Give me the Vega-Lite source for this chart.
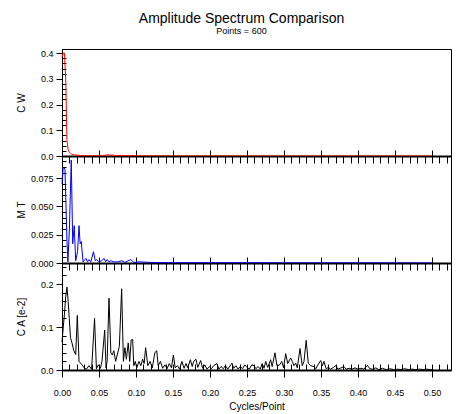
{
  "$schema": "https://vega.github.io/schema/vega-lite/v6.json",
  "padding": {"left": 15, "top": 11, "right": 6, "bottom": 4},
  "title": {"text": "Amplitude Spectrum Comparison", "subtitle": "Points = 600", "fontSize": 14, "subtitleFontSize": 9, "font": "Liberation Sans", "subtitleFont": "Liberation Sans", "fontWeight": "normal", "color": "black", "subtitleColor": "black", "anchor": "middle", "offset": 13, "subtitlePadding": 1, "dx": 8},
  "datasets": {
    "cw": [
      {"f":0,"v":0.385},{"f":0.0017,"v":0.4},{"f":0.0033,"v":0.4},{"f":0.005,"v":0.3},{"f":0.0067,"v":0.06},{"f":0.0083,"v":0.025},{"f":0.01,"v":0.014},{"f":0.0117,"v":0.01},{"f":0.0133,"v":0.007},{"f":0.015,"v":0.005},{"f":0.0183,"v":0.004},{"f":0.0217,"v":0.003},{"f":0.025,"v":0.002},{"f":0.03,"v":0.002},{"f":0.035,"v":0.001},{"f":0.04,"v":0.001},{"f":0.045,"v":0.001},{"f":0.05,"v":0.001},{"f":0.055,"v":0.002},{"f":0.0583,"v":0.003},{"f":0.0617,"v":0.005},{"f":0.065,"v":0.003},{"f":0.0683,"v":0.004},{"f":0.0717,"v":0.001},{"f":0.08,"v":0.002},{"f":0.085,"v":0.001},{"f":0.093,"v":0.002},{"f":0.1,"v":0.001},{"f":0.12,"v":0.0005},{"f":0.15,"v":0.0003},{"f":0.2,"v":0.0003},{"f":0.3,"v":0.0002},{"f":0.4,"v":0.0002},{"f":0.5,"v":0.0001}
    ],
    "mt": [
      {"f":0,"v":0.07},{"f":0.0017,"v":0.085},{"f":0.004,"v":0.083},{"f":0.0067,"v":0.02},{"f":0.008,"v":0.001},{"f":0.01,"v":0.03},{"f":0.0125,"v":0.091},{"f":0.0145,"v":0.017},{"f":0.0165,"v":0.033},{"f":0.0185,"v":0.002},{"f":0.021,"v":0.01},{"f":0.023,"v":0.033},{"f":0.0245,"v":0.017},{"f":0.026,"v":0.019},{"f":0.0285,"v":0.001},{"f":0.031,"v":0.003},{"f":0.0325,"v":0.004},{"f":0.0345,"v":0.001},{"f":0.0365,"v":0.003},{"f":0.039,"v":0.001},{"f":0.0425,"v":0.01},{"f":0.045,"v":0.002},{"f":0.047,"v":0.003},{"f":0.05,"v":0.001},{"f":0.0535,"v":0.002},{"f":0.057,"v":0.004},{"f":0.059,"v":0.001},{"f":0.061,"v":0.003},{"f":0.0635,"v":0.001},{"f":0.066,"v":0.002},{"f":0.07,"v":0.001},{"f":0.075,"v":0.001},{"f":0.081,"v":0.002},{"f":0.085,"v":0.0005},{"f":0.093,"v":0.003},{"f":0.097,"v":0.0005},{"f":0.105,"v":0.001},{"f":0.12,"v":0.0005},{"f":0.15,"v":0.0003},{"f":0.2,"v":0.0003},{"f":0.3,"v":0.0002},{"f":0.4,"v":0.0002},{"f":0.5,"v":0.0001}
    ],
    "ca": [
      {"f":0,"v":0.065},{"f":0.0017,"v":0.1},{"f":0.0033,"v":0.13},{"f":0.005,"v":0.17},{"f":0.0067,"v":0.193},{"f":0.0083,"v":0.16},{"f":0.0098,"v":0.12},{"f":0.0115,"v":0.075},{"f":0.0135,"v":0.063},{"f":0.016,"v":0.045},{"f":0.0185,"v":0.036},{"f":0.0207,"v":0.127},{"f":0.023,"v":0.02},{"f":0.027,"v":0.012},{"f":0.03,"v":0.005},{"f":0.033,"v":0.002},{"f":0.0365,"v":0.01},{"f":0.04,"v":0.002},{"f":0.044,"v":0.12},{"f":0.0465,"v":0.003},{"f":0.049,"v":0.012},{"f":0.052,"v":0.004},{"f":0.054,"v":0.02},{"f":0.0577,"v":0.093},{"f":0.0595,"v":0.005},{"f":0.061,"v":0.02},{"f":0.0635,"v":0.167},{"f":0.066,"v":0.04},{"f":0.068,"v":0.035},{"f":0.07,"v":0.045},{"f":0.0725,"v":0.02},{"f":0.0775,"v":0.055},{"f":0.0806,"v":0.189},{"f":0.083,"v":0.02},{"f":0.085,"v":0.052},{"f":0.087,"v":0.025},{"f":0.0895,"v":0.063},{"f":0.0915,"v":0.02},{"f":0.0935,"v":0.07},{"f":0.0955,"v":0.071},{"f":0.097,"v":0.01},{"f":0.099,"v":0.02},{"f":0.101,"v":0.005},{"f":0.104,"v":0.02},{"f":0.1065,"v":0.01},{"f":0.109,"v":0.025},{"f":0.111,"v":0.015},{"f":0.113,"v":0.052},{"f":0.116,"v":0.01},{"f":0.119,"v":0.02},{"f":0.122,"v":0.005},{"f":0.1255,"v":0.04},{"f":0.128,"v":0.045},{"f":0.13,"v":0.01},{"f":0.133,"v":0.02},{"f":0.136,"v":0.004},{"f":0.139,"v":0.012},{"f":0.142,"v":0.003},{"f":0.145,"v":0.015},{"f":0.148,"v":0.005},{"f":0.1505,"v":0.035},{"f":0.153,"v":0.005},{"f":0.156,"v":0.01},{"f":0.159,"v":0.002},{"f":0.162,"v":0.02},{"f":0.165,"v":0.004},{"f":0.1675,"v":0.015},{"f":0.17,"v":0.005},{"f":0.1735,"v":0.024},{"f":0.176,"v":0.008},{"f":0.178,"v":0.02},{"f":0.181,"v":0.025},{"f":0.1835,"v":0.006},{"f":0.1874,"v":0.022},{"f":0.19,"v":0.004},{"f":0.193,"v":0.012},{"f":0.196,"v":0.002},{"f":0.199,"v":0.008},{"f":0.202,"v":0.003},{"f":0.205,"v":0.01},{"f":0.2095,"v":0.015},{"f":0.212,"v":0.002},{"f":0.215,"v":0.008},{"f":0.218,"v":0.003},{"f":0.221,"v":0.01},{"f":0.224,"v":0.002},{"f":0.2297,"v":0.016},{"f":0.232,"v":0.004},{"f":0.235,"v":0.01},{"f":0.238,"v":0.002},{"f":0.241,"v":0.008},{"f":0.244,"v":0.003},{"f":0.247,"v":0.012},{"f":0.25,"v":0.006},{"f":0.253,"v":0.002},{"f":0.2565,"v":0.012},{"f":0.2595,"v":0.01},{"f":0.262,"v":0.003},{"f":0.265,"v":0.008},{"f":0.268,"v":0.002},{"f":0.2705,"v":0.015},{"f":0.273,"v":0.004},{"f":0.2753,"v":0.02},{"f":0.278,"v":0.006},{"f":0.282,"v":0.024},{"f":0.284,"v":0.008},{"f":0.2878,"v":0.04},{"f":0.2905,"v":0.01},{"f":0.2942,"v":0.012},{"f":0.297,"v":0.02},{"f":0.2995,"v":0.005},{"f":0.3023,"v":0.038},{"f":0.305,"v":0.015},{"f":0.309,"v":0.028},{"f":0.3112,"v":0.02},{"f":0.3135,"v":0.01},{"f":0.3158,"v":0.016},{"f":0.318,"v":0.005},{"f":0.3216,"v":0.05},{"f":0.3247,"v":0.01},{"f":0.327,"v":0.02},{"f":0.33,"v":0.069},{"f":0.3328,"v":0.016},{"f":0.336,"v":0.01},{"f":0.3405,"v":0.008},{"f":0.343,"v":0.003},{"f":0.346,"v":0.012},{"f":0.3496,"v":0.022},{"f":0.352,"v":0.01},{"f":0.354,"v":0.02},{"f":0.357,"v":0.003},{"f":0.36,"v":0.006},{"f":0.363,"v":0.002},{"f":0.366,"v":0.005},{"f":0.37,"v":0.01},{"f":0.373,"v":0.002},{"f":0.376,"v":0.004},{"f":0.381,"v":0.008},{"f":0.384,"v":0.002},{"f":0.388,"v":0.004},{"f":0.392,"v":0.002},{"f":0.396,"v":0.005},{"f":0.4,"v":0.002},{"f":0.404,"v":0.004},{"f":0.408,"v":0.002},{"f":0.4126,"v":0.011},{"f":0.416,"v":0.003},{"f":0.42,"v":0.002},{"f":0.424,"v":0.005},{"f":0.428,"v":0.001},{"f":0.433,"v":0.004},{"f":0.438,"v":0.001},{"f":0.443,"v":0.003},{"f":0.448,"v":0.001},{"f":0.453,"v":0.002},{"f":0.458,"v":0.001},{"f":0.463,"v":0.003},{"f":0.468,"v":0.001},{"f":0.473,"v":0.002},{"f":0.478,"v":0.001},{"f":0.483,"v":0.002},{"f":0.488,"v":0.001},{"f":0.493,"v":0.002},{"f":0.498,"v":0.001},{"f":0.5,"v":0.001}
    ]
  },
  "vconcat": [
    {
      "width": 389, "height": 107,
      "data": {"name": "cw"},
      "resolve": {"axis": {"x": "independent", "y": "independent"}},
      "layer": [
        {
          "mark": {"type": "line", "color": "#ff0000", "strokeWidth": 1},
          "encoding": {
            "x": {"field": "f", "type": "quantitative", "scale": {"domain": [0, 0.5257], "nice": false, "zero": false},
              "axis": {"orient": "bottom", "values": [0,0.05,0.1,0.15,0.2,0.25,0.3,0.35,0.4,0.45,0.5], "labels": false, "title": null, "tickSize": -6, "domainWidth": 2}},
            "y": {"field": "v", "type": "quantitative", "scale": {"domain": [0, 0.416], "nice": false},
              "axis": {"orient": "left", "values": [0,0.1,0.2,0.3,0.4], "format": ".1f", "tickSize": 6, "labelPadding": 3, "title": "C W", "titleX": -36}}
          }
        },
        {
          "mark": {"type": "line", "strokeOpacity": 0},
          "encoding": {
            "x": {"field": "f", "type": "quantitative", "axis": null},
            "y": {"field": "v", "type": "quantitative",
              "axis": {"orient": "left", "values": [0.02,0.04,0.06,0.08,0.12,0.14,0.16,0.18,0.22,0.24,0.26,0.28,0.32,0.34,0.36,0.38], "labels": false, "domain": false, "tickSize": -4, "title": null}}
          }
        }
      ]
    },
    {
      "width": 389, "height": 107,
      "data": {"name": "mt"},
      "resolve": {"axis": {"x": "independent", "y": "independent"}},
      "layer": [
        {
          "mark": {"type": "line", "color": "#0000ff", "strokeWidth": 1},
          "encoding": {
            "x": {"field": "f", "type": "quantitative", "scale": {"domain": [0, 0.5257], "nice": false, "zero": false},
              "axis": {"orient": "bottom", "values": [0,0.05,0.1,0.15,0.2,0.25,0.3,0.35,0.4,0.45,0.5], "labels": false, "title": null, "tickSize": -6, "domainWidth": 2}},
            "y": {"field": "v", "type": "quantitative", "scale": {"domain": [0, 0.0946], "nice": false},
              "axis": {"orient": "left", "values": [0,0.025,0.05,0.075], "format": ".3f", "tickSize": 6, "labelPadding": 3, "title": "M T", "titleX": -36}}
          }
        },
        {
          "mark": {"type": "line", "strokeOpacity": 0},
          "encoding": {
            "x": {"field": "f", "type": "quantitative",
              "axis": {"orient": "top", "values": [0,0.01,0.02,0.03,0.04,0.05,0.06,0.07,0.08,0.09,0.1,0.11,0.12,0.13,0.14,0.15,0.16,0.17,0.18,0.19,0.2,0.21,0.22,0.23,0.24,0.25,0.26,0.27,0.28,0.29,0.3,0.31,0.32,0.33,0.34,0.35,0.36,0.37,0.38,0.39,0.4,0.41,0.42,0.43,0.44,0.45,0.46,0.47,0.48,0.49,0.5,0.51,0.52], "labels": false, "title": null, "tickSize": -7, "domain": false}},
            "y": {"field": "v", "type": "quantitative",
              "axis": {"orient": "left", "values": [0.005,0.01,0.015,0.02,0.03,0.035,0.04,0.045,0.055,0.06,0.065,0.07,0.08,0.085,0.09], "labels": false, "domain": false, "tickSize": -4, "title": null}}
          }
        }
      ]
    },
    {
      "width": 389, "height": 107,
      "data": {"name": "ca"},
      "resolve": {"axis": {"x": "independent", "y": "independent"}},
      "layer": [
        {
          "mark": {"type": "line", "color": "#000000", "strokeWidth": 1},
          "encoding": {
            "x": {"field": "f", "type": "quantitative", "scale": {"domain": [0, 0.5257], "nice": false, "zero": false},
              "axis": {"orient": "bottom", "values": [0,0.05,0.1,0.15,0.2,0.25,0.3,0.35,0.4,0.45,0.5], "format": ".2f",
                "tickSize": 7, "labelPadding": 11, "labelFlush": false, "title": "Cycles/Point", "titlePadding": 4, "domainWidth": 2}},
            "y": {"field": "v", "type": "quantitative", "scale": {"domain": [0, 0.249], "nice": false},
              "axis": {"orient": "left", "values": [0,0.1,0.2], "format": ".1f", "tickSize": 6, "labelPadding": 3, "title": "C A [e-2]", "titleX": -36}}
          }
        },
        {
          "mark": {"type": "line", "strokeOpacity": 0},
          "encoding": {
            "x": {"field": "f", "type": "quantitative",
              "axis": {"orient": "top", "values": [0,0.01,0.02,0.03,0.04,0.05,0.06,0.07,0.08,0.09,0.1,0.11,0.12,0.13,0.14,0.15,0.16,0.17,0.18,0.19,0.2,0.21,0.22,0.23,0.24,0.25,0.26,0.27,0.28,0.29,0.3,0.31,0.32,0.33,0.34,0.35,0.36,0.37,0.38,0.39,0.4,0.41,0.42,0.43,0.44,0.45,0.46,0.47,0.48,0.49,0.5,0.51,0.52], "labels": false, "title": null, "tickSize": -7, "domain": false}},
            "y": {"field": "v", "type": "quantitative",
              "axis": {"orient": "left", "values": [0.02,0.04,0.06,0.08,0.12,0.14,0.16,0.18,0.22,0.24], "labels": false, "domain": false, "tickSize": -4, "title": null}}
          }
        },
        {
          "mark": {"type": "line", "strokeOpacity": 0},
          "encoding": {
            "x": {"field": "f", "type": "quantitative",
              "axis": {"orient": "bottom", "values": [0,0.01,0.02,0.03,0.04,0.05,0.06,0.07,0.08,0.09,0.1,0.11,0.12,0.13,0.14,0.15,0.16,0.17,0.18,0.19,0.2,0.21,0.22,0.23,0.24,0.25,0.26,0.27,0.28,0.29,0.3,0.31,0.32,0.33,0.34,0.35,0.36,0.37,0.38,0.39,0.4,0.41,0.42,0.43,0.44,0.45,0.46,0.47,0.48,0.49,0.5,0.51,0.52], "labels": false, "title": null, "tickSize": -6, "domain": false}},
            "y": {"field": "v", "type": "quantitative", "axis": null}
          }
        }
      ]
    }
  ],
  "spacing": 0,
  "bounds": "flush",
  "config": {
    "font": "Liberation Sans",
    "view": {"stroke": "#000000", "strokeWidth": 1},
    "axis": {"labelFont": "Liberation Sans", "labelFontSize": 9, "labelColor": "#000000", "tickColor": "#000000", "domainColor": "#000000", "grid": false, "titleFont": "Liberation Sans", "titleFontWeight": "normal", "titleFontSize": 10, "titleColor": "#000000", "labelOverlap": false, "tickWidth": 1}
  }
}
